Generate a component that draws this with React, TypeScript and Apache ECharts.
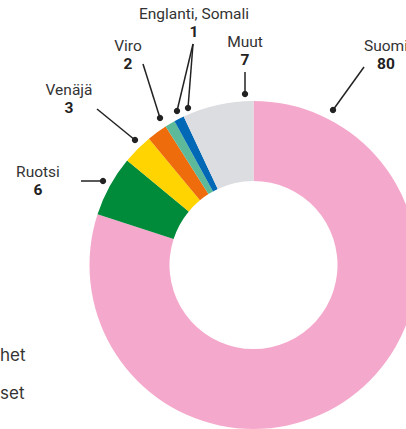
import React, { useEffect, useRef } from "react";
import * as echarts from "echarts";

const categories = ["Suomi", "Ruotsi", "Venäjä", "Viro", "Englanti", "Somali", "Muut"];
const values = [80, 6, 3, 2, 1, 1, 7];
const colors = ["#f4a9cc", "#008b3b", "#ffd400", "#ee6c0b", "#5cba9b", "#0068b5", "#dcdde0"];
const sideLabels = ["het", "set"];

// annotation layout: label centre, line start, dot ends
const annotations = [
  { names: ["Suomi"], tx: 386, ty: 46, from: [364, 67], to: [[333, 110]] },
  { names: ["Muut"], tx: 245, ty: 42, from: [245, 72], to: [[245, 94]] },
  { names: ["Englanti", "Somali"], tx: 194, ty: 14, from: [193, 44], to: [[177, 111], [188, 108]] },
  { names: ["Viro"], tx: 128, ty: 46, from: [143, 64], to: [[160, 118]] },
  { names: ["Venäjä"], tx: 69, ty: 90, from: [97, 109], to: [[135, 140]] },
  { names: ["Ruotsi"], tx: 38, ty: 172, from: [81, 181], to: [[103, 181]] },
];

const FONT = "Roboto, 'Noto Sans', sans-serif";
const INK = "#222222";

export default function App() {
  const ref = useRef<HTMLDivElement>(null);
  useEffect(() => {
    document.body.style.margin = "0";
    const chart = echarts.init(ref.current!, null, { renderer: "svg" });
    const graphics: any[] = [];
    annotations.forEach((a) => {
      const v = values[categories.indexOf(a.names[0])];
      graphics.push({
        type: "text",
        x: a.tx,
        y: a.ty,
        style: {
          text: a.names.join(", "),
          font: `400 15.5px ${FONT}`,
          fill: "#333333",
          align: "center",
          verticalAlign: "middle",
        },
      });
      graphics.push({
        type: "text",
        x: a.tx,
        y: a.ty + 17.5,
        style: {
          text: String(v),
          font: `700 15.5px ${FONT}`,
          fill: INK,
          align: "center",
          verticalAlign: "middle",
        },
      });
      a.to.forEach((p) => {
        graphics.push({
          type: "line",
          shape: { x1: a.from[0], y1: a.from[1], x2: p[0], y2: p[1] },
          style: { stroke: INK, lineWidth: 1.5 },
        });
        graphics.push({
          type: "circle",
          shape: { cx: p[0], cy: p[1], r: 3.2 },
          style: { fill: INK },
        });
      });
    });
    sideLabels.forEach((t, i) => {
      graphics.push({
        type: "text",
        x: 0,
        y: 355 + i * 38,
        style: {
          text: t,
          font: `400 17px Inter, ${FONT}`,
          fill: "#333333",
          align: "left",
          verticalAlign: "middle",
        },
      });
    });
    chart.setOption({
      animation: false,
      backgroundColor: "#ffffff",
      series: [
        {
          type: "pie",
          center: [253.5, 265],
          radius: [84, 164],
          startAngle: 90,
          clockwise: true,
          label: { show: false },
          labelLine: { show: false },
          itemStyle: { borderWidth: 0 },
          emphasis: { disabled: true },
          data: categories.map((c, i) => ({
            name: c,
            value: values[i],
            itemStyle: { color: colors[i] },
          })),
        },
      ],
      graphic: graphics,
    });
    return () => chart.dispose();
  }, []);
  return (
    <div
      ref={ref}
      style={{ position: "fixed", left: 0, top: 0, width: 406, height: 429 }}
    />
  );
}
